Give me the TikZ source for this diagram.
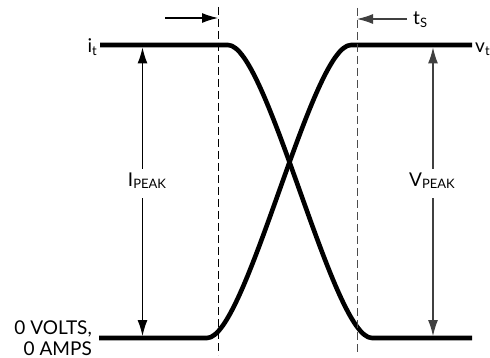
\documentclass[tikz,border=0pt]{standalone}
\usepackage{fontspec}
\setmainfont{Lato}
\usetikzlibrary{arrows.meta}
\newcommand{\lowsub}[1]{\raisebox{-0.12em}{\fontsize{13}{13}\selectfont #1}}
\tikzset{
  wave/.style={draw=black,line width=4.6pt,line join=round},
  guide/.style={draw=black,line width=0.9pt,dash pattern=on 8pt off 4pt},
  dim/.style={draw=black,line width=1.1pt,-{Latex[length=16pt,width=10pt]}},
  lbl/.style={inner sep=0pt,font=\fontsize{19}{22}\selectfont},
  peak/.style={lbl,inner sep=4pt},
}

\begin{document}
\begin{tikzpicture}[x=1pt,y=-1pt]
\useasboundingbox (0,0) rectangle (490,358);
\coordinate (tl0) at (100,45);
\coordinate (tl1) at (228,45);
\coordinate (br1) at (372,338);
\coordinate (br0) at (472,338);
\coordinate (bl0) at (99,338);
\coordinate (bl1) at (207,338);
\coordinate (tr1) at (351,45);
\coordinate (tr0) at (472,45);
\draw[wave] (tl0) -- (tl1) .. controls (267.5,45) and (332.5,338) .. (br1) -- (br0);
\draw[wave] (bl0) -- (bl1) .. controls (246.5,338) and (311.5,45) .. (tr1) -- (tr0);
\coordinate (sa) at (218,7);
\coordinate (sb) at (218,355);
\coordinate (ea) at (357,8);
\coordinate (eb) at (357,355);
\draw[guide] (sa) -- (sb);
\draw[guide,draw=black!70] (ea) -- (eb);
\coordinate (rtail) at (165,18);
\coordinate (rhead) at (218,18);
\draw[dim] (rtail) -- (rhead);
\node[lbl,inner xsep=6pt,anchor=base west] (ts) at (407,25) {t\lowsub{S}};
\coordinate (lhead) at (357,19);
\draw[dim,draw=black!75] (ts.west |- lhead) -- (lhead);
\node[lbl,anchor=base east] (it) at (97,53) {i\lowsub{t}};
\node[lbl,anchor=base west] (vt) at (475,53) {v\lowsub{t}};
\node[peak] (ipeak) at (147,181) {I\lowsub{PEAK}};
\coordinate (itop) at (142.5,47.5);
\coordinate (ibot) at (142.5,336);
\draw[dim] (ipeak.north -| itop) -- (itop);
\draw[dim] ([yshift=-5pt]ipeak.south -| ibot) -- (ibot);
\node[peak] (vpeak) at (432,181) {V\lowsub{PEAK}};
\coordinate (vtop) at (433,47.5);
\coordinate (vbot) at (433,336);
\draw[dim,draw=black!75] (vpeak.north -| vtop) -- (vtop);
\draw[dim,draw=black!75] ([yshift=-5pt]vpeak.south -| vbot) -- (vbot);
\node[lbl,anchor=base east] (volts) at (92,334) {0 VOLTS,};
\node[lbl,anchor=base east] (amps) at (92,355) {0 AMPS};
\end{tikzpicture}
\end{document}
